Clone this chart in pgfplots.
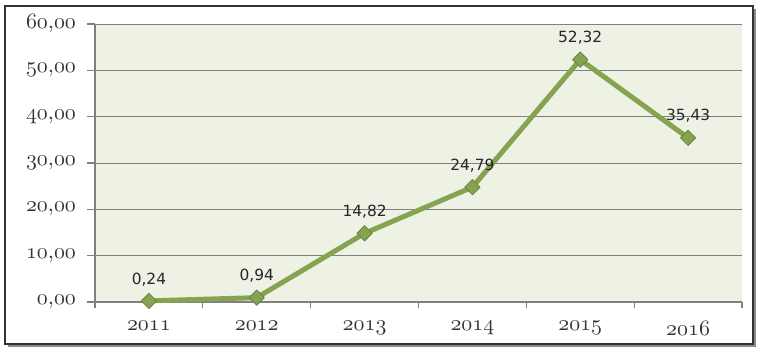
\documentclass[border=0pt]{standalone}
\usepackage{fontspec}
\newfontfamily\labfont{DejaVu Sans}
\usepackage{pgfplots}
\pgfplotsset{compat=1.18}
\definecolor{linegreen}{RGB}{134,163,82}
\definecolor{bgg}{RGB}{238,242,229}
\begin{document}
\begin{tikzpicture}
\useasboundingbox (-47.5pt,-29pt) rectangle (336.5pt,151pt);
\fill[black!45] (-43.5pt,-22.5pt) rectangle (330.5pt,146.5pt);
\filldraw[fill=white,draw=black!80,line width=1pt] (-45pt,-21pt) rectangle (329pt,148pt);
\begin{axis}[
  at={(0,0)}, anchor=south west,
  scale only axis, width=323.5pt, height=139pt,
  xmin=-0.5, xmax=5.5, ymin=0, ymax=60,
  axis x line*=bottom, axis y line*=left,
  axis line style={black!50, line width=0.6pt},
  axis background/.style={fill=bgg},
  ymajorgrids, grid style={black!50, line width=0.5pt},
  ytick={0,10,...,60},
  yticklabels={$\mathnormal{0{,}00}$,$\mathnormal{10{,}00}$,$\mathnormal{20{,}00}$,$\mathnormal{30{,}00}$,$\mathnormal{40{,}00}$,$\mathnormal{50{,}00}$,$\mathnormal{60{,}00}$},
  xtick={0,...,5},
  xticklabels={$\mathnormal{2011}$,$\mathnormal{2012}$,$\mathnormal{2013}$,$\mathnormal{2014}$,$\mathnormal{2015}$,$\mathnormal{2016}$},
  minor xtick={-0.5,0.5,...,5.5},
  tick align=outside, major tick length=4pt, minor tick length=3pt,
  major x tick style={draw=none},
  tick style={black!50, line width=0.6pt},
  ticklabel style={font=\fontsize{11}{13}\selectfont, black!80},
  yticklabel style={xshift=-2pt},
  xticklabel style={yshift=-2pt},
  clip=false,
]
\addplot[linegreen, line width=2.5pt, line join=round, mark=square*, mark size=2.7pt,
  mark options={fill=linegreen, draw=linegreen!80!black, line width=0.4pt, rotate=45},
  nodes near coords, point meta=explicit symbolic,
  every node near coord/.style={font=\labfont\fontsize{7.7}{9}\selectfont, text=black!85, yshift=4pt}]
  table[meta=lab] {
x y lab
0 0.24 {0,24}
1 0.94 {0,94}
2 14.82 {14,82}
3 24.79 {24,79}
4 52.32 {52,32}
5 35.43 {35,43}
};
\end{axis}
\end{tikzpicture}
\end{document}
